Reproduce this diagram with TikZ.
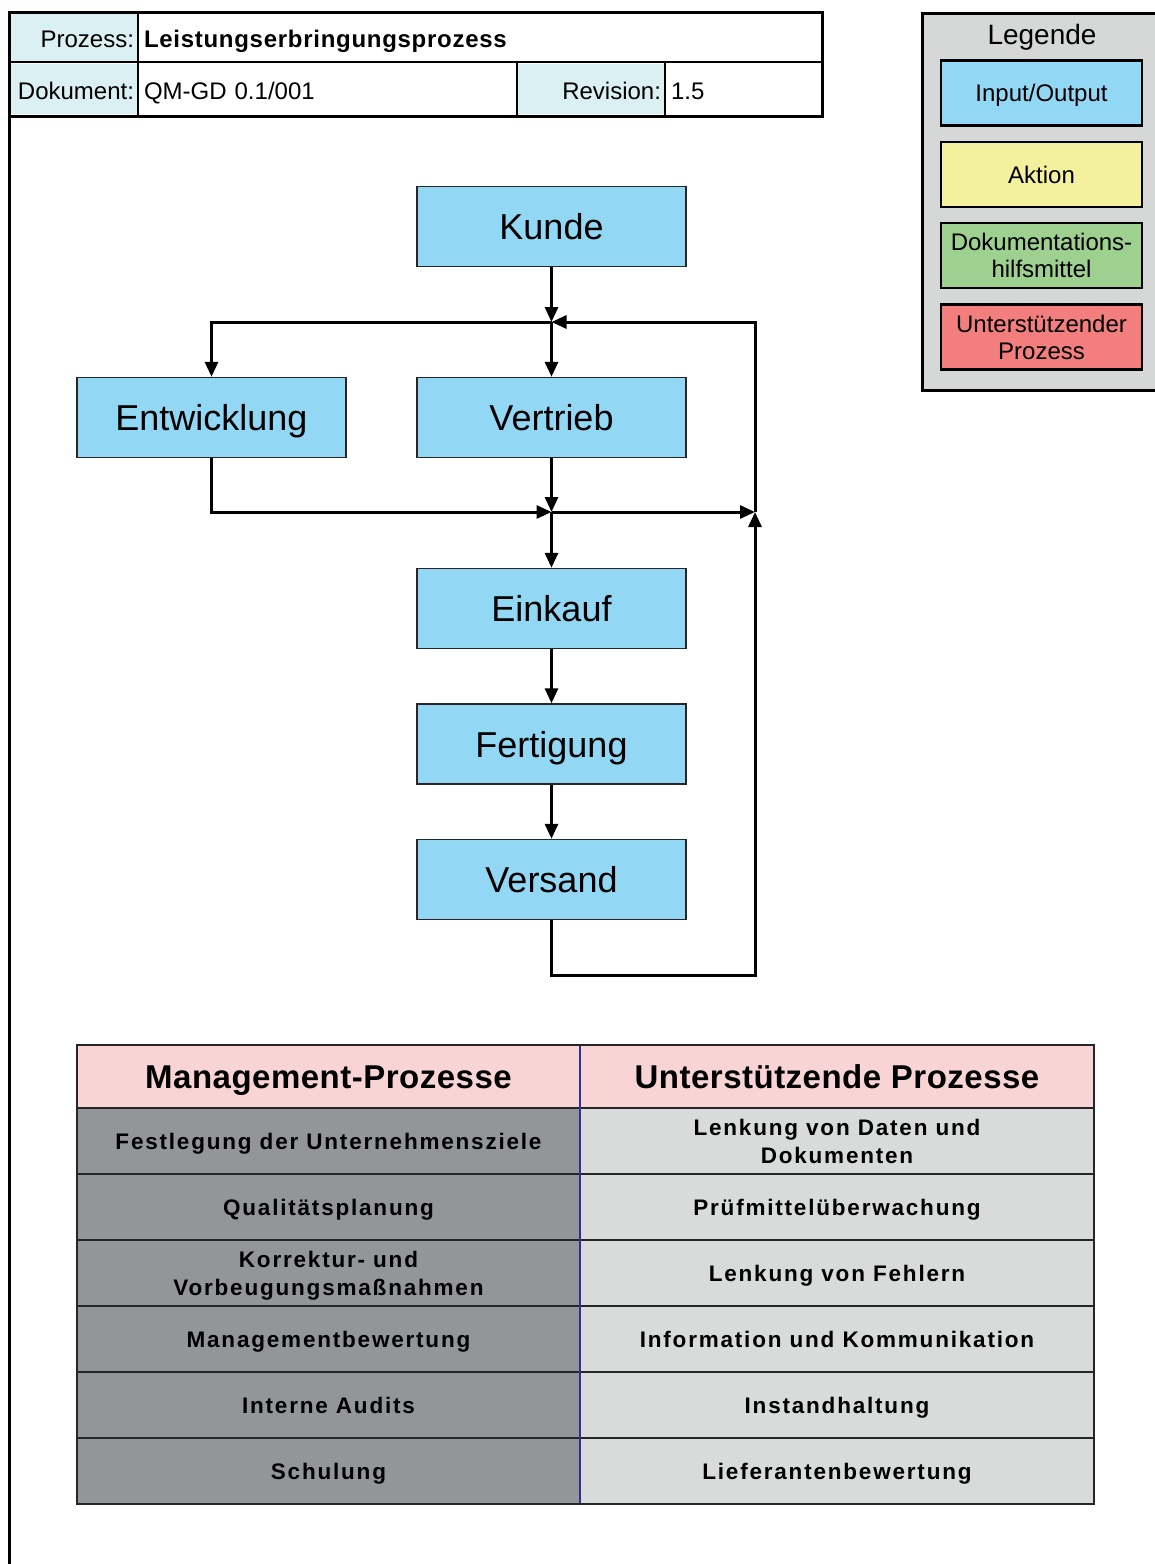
\documentclass[tikz,border=0pt]{standalone}
\usepackage{fontspec}
\setmainfont{Liberation Sans}
\newfontfamily\tabfont[LetterSpace=8]{Liberation Sans}
\newfontfamily\tabheadfont[LetterSpace=1.5]{Liberation Sans}
\newfontfamily\titlefont[LetterSpace=3]{Liberation Sans}
\usetikzlibrary{arrows.meta}

\definecolor{ioblue}{HTML}{92D8F5}
\definecolor{actyellow}{HTML}{F3F09E}
\definecolor{docgreen}{HTML}{9ED08F}
\definecolor{supred}{HTML}{F37E7E}
\definecolor{legendgray}{HTML}{D6D7D7}
\definecolor{headcyan}{HTML}{DAF0F3}
\definecolor{tabpink}{HTML}{F9D4D5}
\definecolor{tabdark}{HTML}{939598}
\definecolor{tablight}{HTML}{D9DBDB}
\definecolor{tabnavy}{HTML}{2E3192}

\tikzset{
  flowbox/.style={draw=black!85, line width=1.4pt, fill=ioblue,
    minimum width=269pt, minimum height=80pt, inner sep=0pt,
    text height=26pt, text depth=0pt,
    font=\fontsize{36}{40}\selectfont},
  flow/.style={line width=3pt, -{Triangle[length=15pt,width=13pt]}},
  legbox/.style={draw=black, line width=2.5pt, minimum width=201pt,
    minimum height=65pt, inner sep=0pt, align=center,
    text height=17pt, text depth=0pt,
    font=\fontsize{24}{27}\selectfont},
  twolines/.style={text height=#1, text depth=0pt},
  hlabel/.style={fill=headcyan, minimum height=50pt, inner xsep=4pt,
    inner ysep=0pt, align=right, text height=21pt, text depth=0pt,
    font=\fontsize{24}{27}\selectfont},
  hvalue/.style={fill=white, minimum height=50pt, inner xsep=6pt,
    inner ysep=0pt, align=left, text height=21pt, text depth=0pt,
    font=\fontsize{24}{27}\selectfont},
  tabcell/.style={minimum height=66pt, inner sep=0pt, align=center,
    text height=16pt, text depth=0pt,
    font=\tabfont\bfseries\fontsize{22.5}{28}\selectfont},
  lcell/.style={tabcell, fill=tabdark, minimum width=503pt},
  rcell/.style={tabcell, fill=tablight, minimum width=514pt},
  headcell/.style={fill=tabpink, minimum height=63pt, inner sep=0pt,
    text height=23.5pt, text depth=0pt,
    font=\tabheadfont\bfseries\fontsize{33}{36}\selectfont},
}

\begin{document}
\begin{tikzpicture}[x=1pt,y=-1pt]
\useasboundingbox (0,0) rectangle (1155,1564);

% ---- document header ----
\node[hlabel, text width=121pt] (prozl) at (73.5,37) {Prozess:};
\node[hvalue, text width=672pt] (prozv) at (480,37) {\titlefont\bfseries Leistungserbringungsprozess};
\node[hlabel, text width=121pt] (dokl) at (73.5,89) {Dokument:};
\node[hvalue, text width=367pt] (dokv) at (327.5,89) {QM-GD 0.1/001};
\node[hlabel, text width=140pt] (revl) at (591,89) {Revision:};
\node[hvalue, text width=145pt] (revv) at (743.5,89) {1.5};
\draw[line width=1.5pt] (9,62) -- (822,62);
\draw[line width=1.5pt] (138,12) -- (138,116);
\draw[line width=1.5pt] (517,62) -- (517,116);
\draw[line width=1.5pt] (665,62) -- (665,116);
\draw[line width=3pt] (9,12) rectangle (822,116);
\draw[line width=3pt] (9,116) -- (9,1566);

% ---- legend ----
\draw[line width=3pt, fill=legendgray] (922,13) rectangle (1158,390);
\node[font=\fontsize{28}{30}\selectfont, text height=20pt, text depth=0pt] (legtitle) at (1042,34) {Legende};
\node[legbox, fill=ioblue] (legio) at (1041.5,93) {Input/Output};
\node[legbox, fill=actyellow] (legact) at (1041.5,174.5) {Aktion};
\node[legbox, fill=docgreen, twolines=44pt] (legdoc) at (1041.5,255.5) {Dokumentations-\\hilfsmittel};
\node[legbox, fill=supred, twolines=44pt] (legsup) at (1041.5,337) {Unterstützender\\Prozess};

% ---- process flow ----
\node[flowbox] (kunde) at (551.5,226.5) {Kunde};
\node[flowbox] (entw) at (211.5,417.5) {Entwicklung};
\node[flowbox] (vertrieb) at (551.5,417.5) {Vertrieb};
\node[flowbox] (einkauf) at (551.5,608.5) {Einkauf};
\node[flowbox] (fert) at (551.5,744) {Fertigung};
\node[flowbox] (versand) at (551.5,879.5) {Versand};

\coordinate (j1) at (551.5,322);
\coordinate (j2) at (551.5,512);
\coordinate (jr) at (755,512);
\coordinate (lb) at (755,975);

\draw[flow] (kunde) -- (j1);
\draw[flow] (j1) -- (vertrieb);
\draw[flow] (j1) -| (entw);
\draw[flow] (vertrieb) -- (j2);
\draw[flow] (entw) |- (j2);
\draw[flow] (j2) -- (jr);
\draw[flow] (j2) -- (einkauf);
\draw[flow] (einkauf) -- (fert);
\draw[flow] (fert) -- (versand);
\draw[flow] (versand) |- (lb) -- (jr);
\draw[flow] (jr) |- (j1);

% ---- process table ----
\node[headcell, minimum width=503pt] (hmgmt) at (328.5,1076.5) {Management-Prozesse};
\node[headcell, minimum width=514pt] (hsupp) at (837,1076.5) {Unterstützende Prozesse};

\node[lcell] (m1) at (328.5,1141) {Festlegung der Unternehmensziele};
\node[lcell] (m2) at (328.5,1207) {Qualitätsplanung};
\node[lcell, twolines=44pt] (m3) at (328.5,1273) {Korrektur- und\\Vorbeugungsmaßnahmen};
\node[lcell] (m4) at (328.5,1339) {Managementbewertung};
\node[lcell] (m5) at (328.5,1405) {Interne Audits};
\node[lcell] (m6) at (328.5,1471) {Schulung};

\node[rcell, twolines=44pt] (s1) at (837,1141) {Lenkung von Daten und\\Dokumenten};
\node[rcell] (s2) at (837,1207) {Prüfmittelüberwachung};
\node[rcell] (s3) at (837,1273) {Lenkung von Fehlern};
\node[rcell] (s4) at (837,1339) {Information und Kommunikation};
\node[rcell] (s5) at (837,1405) {Instandhaltung};
\node[rcell] (s6) at (837,1471) {Lieferantenbewertung};

\foreach \yy in {1108,1174,1240,1306,1372,1438}
  \draw[line width=2pt, black!85] (77,\yy) -- (1094,\yy);
\draw[line width=1.2pt, tabnavy] (580,1045) -- (580,1504);
\draw[line width=2pt, black!85] (77,1045) rectangle (1094,1504);
\end{tikzpicture}
\end{document}
